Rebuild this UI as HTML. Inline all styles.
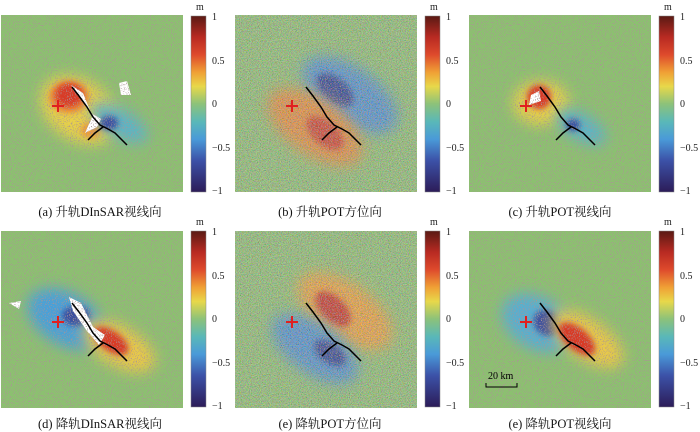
<!DOCTYPE html>
<html><head><meta charset="utf-8"><style>
body{margin:0;background:#fff;}
svg{display:block;font-family:"Liberation Serif","Noto Serif CJK SC",serif;}
</style></head><body>
<svg width="700" height="432" viewBox="0 0 700 432" xmlns="http://www.w3.org/2000/svg">
<defs>
<linearGradient id="cb" x1="0" y1="0" x2="0" y2="1">
<stop offset="0" stop-color="#5a1a14"/><stop offset="0.12" stop-color="#b82a22"/><stop offset="0.22" stop-color="#de4a2c"/><stop offset="0.32" stop-color="#f0a035"/><stop offset="0.4" stop-color="#e8d84a"/><stop offset="0.5" stop-color="#8cc27a"/><stop offset="0.6" stop-color="#5ab8b8"/><stop offset="0.7" stop-color="#4a9ad8"/><stop offset="0.82" stop-color="#3c52a8"/><stop offset="1" stop-color="#2c1c58"/>
</linearGradient>
<filter id="bl" x="-50%" y="-50%" width="200%" height="200%"><feGaussianBlur stdDeviation="7"/></filter>
<filter id="bl2" x="-50%" y="-50%" width="200%" height="200%"><feGaussianBlur stdDeviation="3"/></filter>
<filter id="nz"><feTurbulence type="fractalNoise" baseFrequency="0.95" numOctaves="1" seed="3"/><feColorMatrix type="matrix" values="0 0 0 0 0.4  0 0 0 0 0.3  0 0 0 0 0.3  8 0 0 0 -4.5"/></filter>
<filter id="nz2"><feTurbulence type="fractalNoise" baseFrequency="0.9" numOctaves="1" seed="7"/><feColorMatrix type="matrix" values="3 0 0 0 -1  0 2 0 0 -0.5  0 0 3 0 -1  0 0 0 0 0.3"/></filter>
<clipPath id="c"><rect x="0" y="0" width="182" height="177"/></clipPath>
<g id="fault" fill="none" stroke="#000" stroke-width="1.5">
<polyline points="71,72 78,81 86,92 92,102 99,110 107,114 114,118 120,124 126,130"/>
<polyline points="87,125 94,118 102,112"/>
</g>
<g id="cross" stroke="#e02020" stroke-width="2"><line x1="51" y1="91" x2="63" y2="91"/><line x1="57" y1="85" x2="57" y2="97"/></g>
</defs>

<!-- Panel a -->
<g transform="translate(1,15)" clip-path="url(#c)">
<rect width="182" height="177" fill="#8cc070"/>
<ellipse cx="78" cy="95" rx="42" ry="30" fill="#e8d04a" filter="url(#bl)" transform="rotate(35 78 95)"/>
<ellipse cx="68" cy="82" rx="20" ry="16" fill="#f08a30" filter="url(#bl2)"/>
<ellipse cx="68" cy="80" rx="14" ry="12" fill="#d83a28" filter="url(#bl2)"/>
<ellipse cx="90" cy="115" rx="10" ry="8" fill="#f09a35" filter="url(#bl2)"/>
<ellipse cx="118" cy="108" rx="32" ry="14" fill="#5ab4c8" filter="url(#bl)" transform="rotate(30 118 108)"/>
<ellipse cx="108" cy="108" rx="9" ry="7" fill="#3a50a0" filter="url(#bl2)"/>
<path d="M70,70 L82,78 L90,98 L100,104 L96,112 L84,118 L92,100 Z" fill="#fff"/>
<path d="M118,68 L126,66 L130,80 L120,80 Z" fill="#fff"/>
<rect width="182" height="177" filter="url(#nz)"/>
<use href="#fault"/><use href="#cross"/>
</g>
<!-- Panel b -->
<g transform="translate(235,15)" clip-path="url(#c)">
<rect width="182" height="177" fill="#8cc070"/>
<ellipse cx="115" cy="80" rx="55" ry="28" fill="#4a8ed0" filter="url(#bl)" transform="rotate(35 115 80)"/>
<ellipse cx="100" cy="75" rx="22" ry="12" fill="#2c3c90" filter="url(#bl2)" transform="rotate(40 100 75)"/>
<ellipse cx="80" cy="112" rx="55" ry="28" fill="#e88a35" filter="url(#bl)" transform="rotate(35 80 112)"/>
<ellipse cx="90" cy="118" rx="22" ry="12" fill="#d03a28" filter="url(#bl2)" transform="rotate(40 90 118)"/>
<rect width="182" height="177" filter="url(#nz2)"/>
<rect width="182" height="177" filter="url(#nz)"/>
<use href="#fault"/><use href="#cross"/>
</g>
<!-- Panel c -->
<g transform="translate(469,15)" clip-path="url(#c)">
<rect width="182" height="177" fill="#8cc070"/>
<ellipse cx="72" cy="88" rx="28" ry="22" fill="#e8d04a" filter="url(#bl)"/>
<ellipse cx="70" cy="82" rx="12" ry="12" fill="#d83a28" filter="url(#bl2)"/>
<ellipse cx="112" cy="112" rx="28" ry="13" fill="#5ab4c8" filter="url(#bl)" transform="rotate(30 112 112)"/>
<ellipse cx="104" cy="110" rx="7" ry="6" fill="#3a50a0" filter="url(#bl2)"/>
<path d="M62,80 L70,76 L72,86 L60,90 Z" fill="#fff"/>
<rect width="182" height="177" filter="url(#nz)"/>
<use href="#fault"/><use href="#cross"/>
</g>
<!-- Panel d -->
<g transform="translate(1,231)" clip-path="url(#c)">
<rect width="182" height="177" fill="#8cc070"/>
<ellipse cx="65" cy="88" rx="42" ry="26" fill="#4aa0d8" filter="url(#bl)" transform="rotate(30 65 88)"/>
<ellipse cx="75" cy="85" rx="14" ry="10" fill="#3a50a0" filter="url(#bl2)"/>
<ellipse cx="118" cy="115" rx="40" ry="20" fill="#e8c848" filter="url(#bl)" transform="rotate(30 118 115)"/>
<ellipse cx="110" cy="110" rx="20" ry="10" fill="#d83a28" filter="url(#bl2)" transform="rotate(35 110 110)"/>
<path d="M68,66 L80,72 L92,96 L104,104 L98,114 L86,100 L72,80 Z" fill="#fff"/>
<path d="M8,72 L20,70 L18,78 Z" fill="#fff"/>
<rect width="182" height="177" filter="url(#nz)"/>
<use href="#fault"/><use href="#cross"/>
</g>
<!-- Panel e -->
<g transform="translate(235,231)" clip-path="url(#c)">
<rect width="182" height="177" fill="#8cc070"/>
<ellipse cx="110" cy="80" rx="55" ry="28" fill="#f0a035" filter="url(#bl)" transform="rotate(35 110 80)"/>
<ellipse cx="98" cy="78" rx="22" ry="12" fill="#c82e22" filter="url(#bl2)" transform="rotate(45 98 78)"/>
<ellipse cx="80" cy="118" rx="50" ry="25" fill="#4a8ed0" filter="url(#bl)" transform="rotate(35 80 118)"/>
<ellipse cx="95" cy="122" rx="18" ry="10" fill="#2c3c90" filter="url(#bl2)" transform="rotate(35 95 122)"/>
<rect width="182" height="177" filter="url(#nz2)"/>
<rect width="182" height="177" filter="url(#nz)"/>
<use href="#fault"/><use href="#cross"/>
</g>
<!-- Panel f -->
<g transform="translate(469,231)" clip-path="url(#c)">
<rect width="182" height="177" fill="#8cc070"/>
<ellipse cx="68" cy="92" rx="38" ry="26" fill="#58aed0" filter="url(#bl)" transform="rotate(30 68 92)"/>
<ellipse cx="78" cy="92" rx="14" ry="12" fill="#3a4ea0" filter="url(#bl2)" transform="rotate(40 78 92)"/>
<ellipse cx="118" cy="108" rx="42" ry="20" fill="#e8c848" filter="url(#bl)" transform="rotate(35 118 108)"/>
<ellipse cx="108" cy="108" rx="22" ry="11" fill="#d83a28" filter="url(#bl2)" transform="rotate(40 108 108)"/>
<rect width="182" height="177" filter="url(#nz)"/>
<use href="#fault"/><use href="#cross"/>
<text x="19" y="148" font-size="10">20 km</text>
<polyline points="17,152 17,156 48,156 48,152" fill="none" stroke="#000" stroke-width="1"/>
</g>

<!-- Colorbars -->
<g font-size="10" fill="#222">
<g transform="translate(191,16)">
<rect width="15" height="176" fill="url(#cb)" stroke="#888" stroke-width="0.5"/>
<text x="5" y="-6">m</text>
<text x="21" y="4">1</text><text x="21" y="48">0.5</text><text x="21" y="91">0</text><text x="21" y="135">−0.5</text><text x="21" y="178">−1</text>
</g>
<g transform="translate(425,16)">
<rect width="15" height="176" fill="url(#cb)" stroke="#888" stroke-width="0.5"/>
<text x="5" y="-6">m</text>
<text x="21" y="4">1</text><text x="21" y="48">0.5</text><text x="21" y="91">0</text><text x="21" y="135">−0.5</text><text x="21" y="178">−1</text>
</g>
<g transform="translate(659,16)">
<rect width="15" height="176" fill="url(#cb)" stroke="#888" stroke-width="0.5"/>
<text x="5" y="-6">m</text>
<text x="21" y="4">1</text><text x="21" y="48">0.5</text><text x="21" y="91">0</text><text x="21" y="135">−0.5</text><text x="21" y="178">−1</text>
</g>
<g transform="translate(191,231)">
<rect width="15" height="176" fill="url(#cb)" stroke="#888" stroke-width="0.5"/>
<text x="5" y="-6">m</text>
<text x="21" y="4">1</text><text x="21" y="48">0.5</text><text x="21" y="91">0</text><text x="21" y="135">−0.5</text><text x="21" y="178">−1</text>
</g>
<g transform="translate(425,231)">
<rect width="15" height="176" fill="url(#cb)" stroke="#888" stroke-width="0.5"/>
<text x="5" y="-6">m</text>
<text x="21" y="4">1</text><text x="21" y="48">0.5</text><text x="21" y="91">0</text><text x="21" y="135">−0.5</text><text x="21" y="178">−1</text>
</g>
<g transform="translate(659,231)">
<rect width="15" height="176" fill="url(#cb)" stroke="#888" stroke-width="0.5"/>
<text x="5" y="-6">m</text>
<text x="21" y="4">1</text><text x="21" y="48">0.5</text><text x="21" y="91">0</text><text x="21" y="135">−0.5</text><text x="21" y="178">−1</text>
</g>
</g>

<!-- Captions -->
<g font-size="12.5" fill="#111" text-anchor="middle">
<text x="100" y="216">(a) 升轨DInSAR视线向</text>
<text x="330" y="216">(b) 升轨POT方位向</text>
<text x="560" y="216">(c) 升轨POT视线向</text>
<text x="100" y="428">(d) 降轨DInSAR视线向</text>
<text x="330" y="428">(e) 降轨POT方位向</text>
<text x="560" y="428">(e) 降轨POT视线向</text>
</g>
</svg>
</body></html>
